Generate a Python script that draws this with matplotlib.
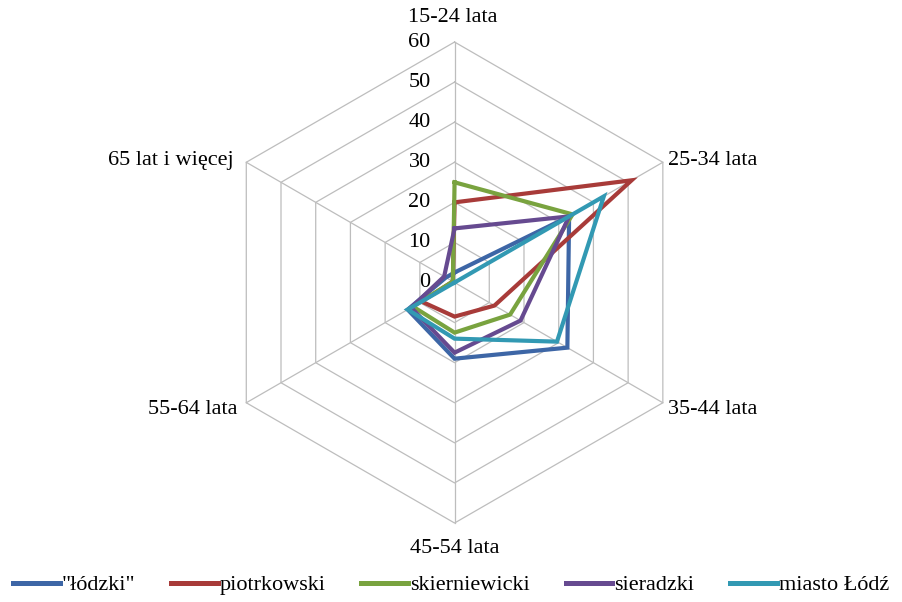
import numpy as np
import matplotlib
matplotlib.use('Agg')
import matplotlib.pyplot as plt

plt.rcParams['font.family'] = ['Liberation Serif', 'DejaVu Serif']

# data (percent by age group)
categories = ['15-24 lata', '25-34 lata', '35-44 lata', '45-54 lata', '55-64 lata', '65 lat i więcej']
series_names = ['"łódzki"', 'piotrkowski', 'skierniewicki', 'sieradzki', 'miasto Łódź']
lodzki = [2.5, 33, 32.5, 19, 13.5, 2.5]
piotrkowski = [20, 51, 11.5, 8.5, 9.5, 0.5]
skierniewicki = [25, 34, 16, 12.5, 12, 0.5]
sieradzki = [13.5, 33, 19, 17.5, 12.5, 3]
miasto_lodz = [0, 43, 29.5, 14, 13.5, 0]
rings = [0, 10, 20, 30, 40, 50, 60]

COLORS = ['#3D66A6', '#A83B39', '#79A33F', '#664A90', '#3299B3']
GRID = '#BDBDBD'

fig = plt.figure(figsize=(9.02, 6.02), dpi=100)
ax = fig.add_axes([0.2373, 0.1312, 0.5333, 0.799], projection='polar')
ax.set_theta_offset(np.pi / 2)
ax.set_theta_direction(-1)
ax.set_ylim(0, 60)
ax.grid(False)
ax.spines['polar'].set_visible(False)
ax.patch.set_visible(False)
ax.set_xticks([]); ax.set_yticks([])

n = len(categories)
ang = np.arange(n) * 2 * np.pi / n
ang_c = np.append(ang, ang[0])

# hexagonal grid + spokes
for r in rings[1:]:
    ax.plot(ang_c, [r] * (n + 1), color=GRID, lw=0.9, clip_on=False, zorder=1)
for a in ang:
    ax.plot([a, a], [0, 60], color=GRID, lw=0.9, clip_on=False, zorder=1)

# radial labels
for r in rings:
    ax.annotate(str(r), xy=(0, r), xytext=(-24, 0), textcoords='offset pixels',
                ha='right', va='center', fontsize=16, color='black')

# category labels
offs = [(-2, 25, 'center', 'center'), (5, 2, 'left', 'center'), (5, -7, 'left', 'center'),
        (0, -25, 'center', 'center'), (-9, -7, 'right', 'center'), (-13, 2, 'right', 'center')]
for a, lab, (dx, dy, ha, va) in zip(ang, categories, offs):
    ax.annotate(lab, xy=(a, 60), xytext=(dx, dy), textcoords='offset pixels',
                ha=ha, va=va, fontsize=16, color='black', annotation_clip=False)

# series
all_series = [lodzki, piotrkowski, skierniewicki, sieradzki, miasto_lodz]
for vals, name, col in zip(all_series, series_names, COLORS):
    v = np.append(vals, vals[0])
    ax.plot(ang_c, v, color=col, lw=3.0, label=name, solid_joinstyle='miter',
            clip_on=False, zorder=3)

leg = fig.legend(loc='center', bbox_to_anchor=(0.5, 0.028), ncol=5, frameon=False,
                 fontsize=16, handlelength=2.1, handletextpad=0.1, columnspacing=1.6,
                 borderaxespad=0)
for h in leg.get_lines():
    h.set_linewidth(3.6)

fig.savefig('out.png', dpi=100)
